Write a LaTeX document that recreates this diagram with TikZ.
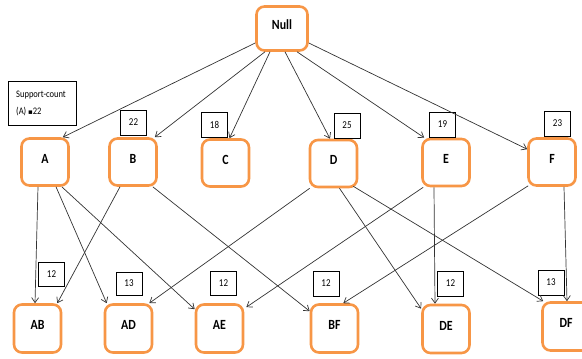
\documentclass[tikz,border=0pt]{standalone}
\usepackage{fontspec}
\setmainfont{Carlito}
\newfontfamily\narrowfont[FakeStretch=0.85]{Carlito}
\newfontfamily\symfont{DejaVu Sans}
\usetikzlibrary{arrows.meta}
\definecolor{itemorange}{HTML}{F79646}
\definecolor{edgegray}{HTML}{333333}
\tikzset{
  itemset/.style={draw=itemorange, line width=2.6pt, fill=white, rounded corners=8pt,
    minimum width=47pt, minimum height=47pt, inner sep=0pt,
    text height=9pt, text depth=7pt,
    font=\narrowfont\fontsize{14}{16}\selectfont\bfseries},
  countbox/.style={draw=black, line width=0.8pt, fill=white, inner sep=0pt,
    minimum width=26pt, minimum height=25pt, font=\narrowfont\fontsize{10.5}{12}\selectfont},
  link/.style={draw=edgegray, line width=0.7pt, -{Straight Barb[length=5pt,width=7pt]}}
}
\begin{document}
\begin{tikzpicture}[x=1pt,y=-1pt]
\useasboundingbox (0,0) rectangle (582,359);

% lattice of itemsets
\node[itemset, minimum width=51pt, minimum height=44pt] (Null) at (282,28.5) {Null};

\node[itemset] (A) at (45,162) {A};
\node[itemset] (B) at (133,162) {B};
\node[itemset] (C) at (225.5,163) {C};
\node[itemset] (D) at (333.5,163.5) {D};
\node[itemset] (E) at (446,162.5) {E};
\node[itemset] (F) at (552,162) {F};

\node[itemset, minimum height=48pt] (AB) at (37.5,328.5) {AB};
\node[itemset, minimum height=48pt] (AD) at (128.5,328.5) {AD};
\node[itemset, minimum height=48pt] (AE) at (219.5,328.5) {AE};
\node[itemset, minimum height=48pt] (BF) at (334.5,328.5) {BF};
\node[itemset, minimum height=48pt] (DE) at (446,329) {DE};
\node[itemset, minimum height=48pt] (DF) at (566,326.5) {DF};

% support counts
\node[countbox] (cB) at (133.5,122.5) {22};
\node[countbox] (cC) at (214.5,124.5) {18};
\node[countbox] (cD) at (347,125.5) {25};
\node[countbox] (cE) at (442.5,124.5) {19};
\node[countbox] (cF) at (557.5,123.5) {23};
\node[countbox, minimum height=24pt] (cAB) at (51.5,274) {12};
\node[countbox, minimum height=23pt] (cAD) at (129,283.5) {13};
\node[countbox, minimum height=24pt] (cAE) at (223.5,283) {12};
\node[countbox] (cBF) at (326,283.5) {12};
\node[countbox] (cDE) at (450.5,283.5) {12};
\node[countbox] (cDF) at (551,282.5) {13};

% legend box
\node[draw=black, line width=0.8pt, fill=white, minimum width=68pt, minimum height=44pt,
  inner sep=0pt] (legend) at (42.5,103.5) {};
\node[anchor=west, inner sep=0pt, font=\narrowfont\fontsize{10}{12}\selectfont]
  (legendA) at (16,95) {Support-count};
\node[anchor=west, inner sep=0pt, font=\narrowfont\fontsize{10}{12}\selectfont]
  (legendB) at (16,112) {(A) {\symfont\fontsize{7}{8}\selectfont ▪}22};

% Null to single items
\draw[link] ([yshift=-14.5]Null.west) -- ([xshift=-7]A.north east);
\draw[link] ([xshift=-17]Null.south) -- ([xshift=-3]B.north east);
\draw[link] ([xshift=-12]Null.south) -- ([xshift=4]C.north);
\draw[link] ([xshift=3]Null.south) -- ([xshift=-3.5]D.north);
\draw[link] ([xshift=15]Null.south) -- ([xshift=3]E.north west);
\draw[link] ([yshift=-14.5]Null.east) -- ([yshift=-12]F.north west);

% single items to pairs
\draw[link] ([xshift=-7]A.south) -- ([xshift=-2.5]AB.north);
\draw[link] ([xshift=11]A.south) -- ([xshift=3]AD.north west);
\draw[link] ([xshift=-8]A.south east) -- ([yshift=-6]AE.north west);
\draw[link] ([xshift=-13]B.south) -- ([xshift=-5]AB.north east);
\draw[link] ([xshift=-5]B.south east) -- ([yshift=-8]BF.north west);
\draw[link] ([xshift=1]D.south west) -- ([xshift=-4]AD.north east);
\draw[link] ([xshift=6]D.south) -- ([yshift=-5]DE.north west);
\draw[link] ([xshift=-5,yshift=2]D.south east) -- ([xshift=2]DF.north west);
\draw[link] ([xshift=2]E.south west) -- ([xshift=2,yshift=-4]AE.north east);
\draw[link] ([xshift=-12]E.south) -- ([xshift=-11]DE.north);
\draw[link] ([xshift=1,yshift=1]F.south west) -- ([xshift=-16]BF.north east);
\draw[link] ([xshift=12]F.south) -- ([xshift=1]DF.north);
\end{tikzpicture}
\end{document}
